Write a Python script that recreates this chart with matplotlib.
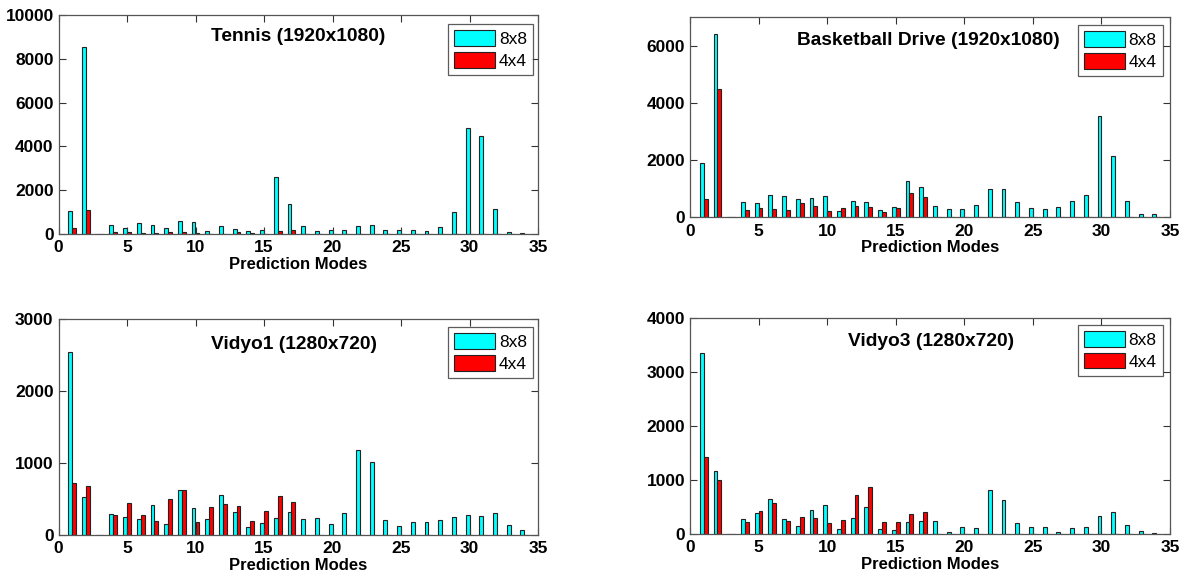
import matplotlib
matplotlib.use("Agg")
import matplotlib.pyplot as plt
import numpy as np

plt.rcParams['font.family'] = ['Liberation Sans', 'DejaVu Sans']

modes = list(range(1, 35))

tennis_8x8 = [1070, 8520, 0, 412, 260, 504, 412, 260, 595, 565, 153, 351, 214, 122, 183,
              2580, 1374, 351, 122, 183, 168, 351, 397, 168, 183, 168, 122, 305, 992,
              4840, 4460, 1130, 76, 30]
tennis_4x4 = [260, 1115, 0, 76, 76, 60, 30, 76, 76, 30, 15, 15, 76, 30, 15,
              122, 168, 0, 0, 0, 0, 0, 0, 0, 0, 0, 0, 0, 0, 0, 0, 0, 0, 0]

bball_8x8 = [1914, 6408, 0, 525, 490, 782, 735, 630, 665, 735, 222, 560, 525, 268, 373,
             1260, 1074, 408, 292, 292, 443, 992, 992, 525, 338, 292, 373, 560, 770,
             3537, 2148, 560, 105, 105]
bball_4x4 = [642, 4494, 0, 268, 338, 303, 268, 490, 408, 233, 338, 408, 373, 187, 338,
             864, 712, 0, 0, 0, 0, 0, 0, 0, 0, 0, 0, 0, 0, 0, 0, 0, 0, 0]

vidyo1_8x8 = [2537, 523, 0, 292, 245, 218, 421, 157, 620, 375, 218, 551, 319, 106, 171,
              231, 319, 218, 231, 157, 306, 1176, 1014, 204, 130, 176, 176, 204, 245,
              273, 264, 301, 144, 69]
vidyo1_4x4 = [718, 681, 0, 278, 440, 278, 190, 495, 620, 185, 389, 435, 403, 190, 333,
              537, 454, 0, 0, 0, 0, 0, 0, 0, 0, 0, 0, 0, 0, 0, 0, 0, 0, 0]

vidyo3_8x8 = [3352, 1167, 0, 272, 389, 642, 278, 154, 444, 543, 93, 296, 506, 93, 80,
              216, 235, 241, 37, 136, 117, 815, 623, 198, 136, 136, 43, 117, 136,
              333, 414, 160, 62, 19]
vidyo3_4x4 = [1420, 994, 0, 216, 432, 568, 235, 315, 290, 210, 253, 722, 877, 216, 216,
              370, 414, 0, 0, 0, 0, 0, 0, 0, 0, 0, 0, 0, 0, 0, 0, 0, 0, 0]

titles = ["Tennis (1920x1080)", "Basketball Drive (1920x1080)",
          "Vidyo1 (1280x720)", "Vidyo3 (1280x720)"]
series = [(tennis_8x8, tennis_4x4), (bball_8x8, bball_4x4),
          (vidyo1_8x8, vidyo1_4x4), (vidyo3_8x8, vidyo3_4x4)]
ylims = [10000, 7000, 3000, 4000]
yticks = [[0, 2000, 4000, 6000, 8000, 10000], [0, 2000, 4000, 6000],
          [0, 1000, 2000, 3000], [0, 1000, 2000, 3000, 4000]]
legend_labels = ["8x8", "4x4"]

W, H = 1192, 578
# axes rects in pixels: left, top, right, bottom
rects_px = [(58.5, 15, 538, 234), (690, 17, 1170, 217.3),
            (58.5, 319, 538, 535), (690, 318, 1170, 534)]
title_pos = [(0.317, 0.90), (0.223, 0.885), (0.317, 0.884), (0.329, 0.889)]
legend_anchor = [(0.9896, 0.959), (0.985, 0.96), (0.9896, 0.963), (0.985, 0.968)]

fig = plt.figure(figsize=(W / 100, H / 100), dpi=100)
fig.patch.set_facecolor('white')

x = np.array(modes, dtype=float)
bw = 0.28
for i in range(4):
    l, t, r, b = rects_px[i]
    ax = fig.add_axes([l / W, (H - b) / H, (r - l) / W, (b - t) / H])
    v8, v4 = series[i]
    ax.bar(x - 0.14, v8, width=bw, color='#00FFFF', edgecolor='#222222', linewidth=0.8,
           label=legend_labels[0])
    ax.bar(x + 0.14, v4, width=bw, color='#FF0000', edgecolor='#222222', linewidth=0.8,
           label=legend_labels[1])
    ax.set_xlim(0, 35)
    ax.set_ylim(0, ylims[i])
    ax.set_xticks(range(0, 36, 5))
    ax.set_yticks(yticks[i])
    ax.tick_params(direction='in', top=True, right=True, length=5, width=0.8,
                   labelsize=12.5, color='#333333')
    ax.tick_params(axis='x', pad=4.5)
    ax.tick_params(axis='y', pad=3.5)
    for lab in ax.get_xticklabels() + ax.get_yticklabels():
        lab.set_fontweight('bold')
    for s in ax.spines.values():
        s.set_color('#555555')
        s.set_linewidth(0.9)
    ax.set_xlabel("Prediction Modes", fontsize=12, fontweight='bold', labelpad=1)
    ax.text(title_pos[i][0], title_pos[i][1], titles[i], transform=ax.transAxes,
            fontsize=13.8, fontweight='bold', ha='left', va='center')
    leg = ax.legend(loc='upper right', bbox_to_anchor=legend_anchor[i], borderaxespad=0,
                    fontsize=12.5, frameon=True, fancybox=False,
                    handlelength=2.4, handleheight=1.0, borderpad=0.35,
                    labelspacing=0.3, handletextpad=0.2)
    leg.get_frame().set_edgecolor('#333333')
    leg.get_frame().set_linewidth(0.9)

fig.savefig("out.png", dpi=100, facecolor='white')
